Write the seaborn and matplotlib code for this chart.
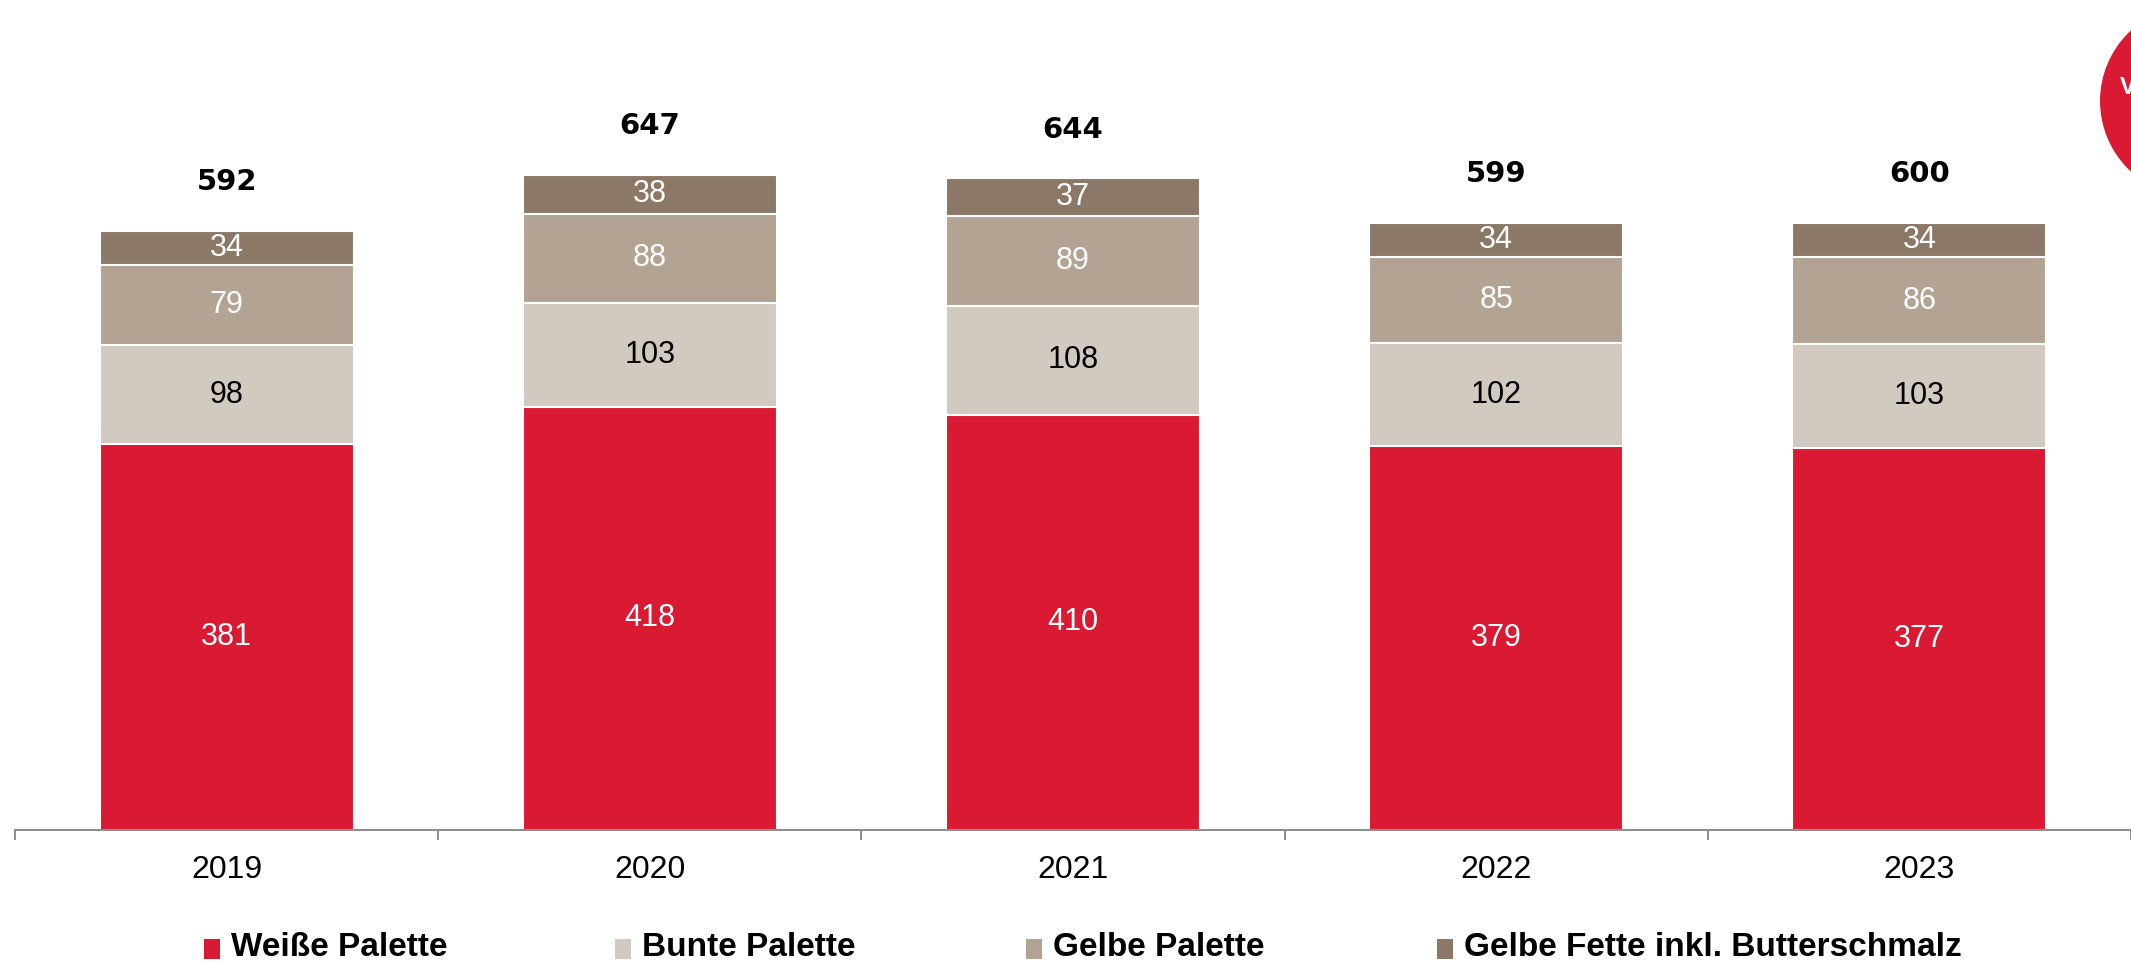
import numpy as np
import pandas as pd
import matplotlib
matplotlib.use("Agg")
import matplotlib.pyplot as plt
from matplotlib.patches import Circle, Rectangle
from matplotlib.transforms import IdentityTransform
import seaborn as sns

# data
years = ["2019", "2020", "2021", "2022", "2023"]
weisse = [381, 418, 410, 379, 377]
bunte = [98, 103, 108, 102, 103]
gelbe = [79, 88, 89, 85, 86]
fette = [34, 38, 37, 34, 34]
totals = [592, 647, 644, 599, 600]

series_names = ["Weiße Palette", "Bunte Palette", "Gelbe Palette", "Gelbe Fette inkl. Butterschmalz"]
series_colors = ["#DA1A32", "#D2C9C0", "#B3A393", "#8C7866"]
label_colors = ["white", "black", "white", "white"]

sns.set_theme(style="white")
plt.rcParams["font.family"] = ["Liberation Sans", "DejaVu Sans"]

W, H = 2131, 964
fig = plt.figure(figsize=(W / 100, H / 100), dpi=100)
ax = fig.add_axes([15 / W, (H - 830) / H, 1 - 15 / W, 830 / H])

df = pd.DataFrame({"year": years, "w": weisse, "b": bunte, "g": gelbe, "f": fette})
layers = [df["w"], df["b"], df["g"], df["f"]]
cum = np.cumsum(np.array(layers), axis=0)

# draw tallest stack first so the lower segments sit on top
for i in range(len(layers) - 1, -1, -1):
    sns.barplot(x=df["year"], y=cum[i], color=series_colors[i], width=0.6,
                edgecolor="white", linewidth=1.5, saturation=1, ax=ax)

# segment labels
for i in range(len(layers)):
    for j in range(len(years)):
        mid = cum[i][j] - layers[i][j] / 2
        ax.text(j, mid, str(layers[i][j]), ha="center", va="center",
                fontsize=22, color=label_colors[i])

# totals above bars
for j, t in enumerate(totals):
    ax.annotate(str(t), (j, cum[-1][j]), xytext=(0, 35), textcoords="offset points",
                ha="center", va="center", fontsize=21, fontweight="bold",
                family="DejaVu Sans", color="black")

ax.set_xlim(-0.5, 4.5)
ax.set_ylim(0, 820)
ax.set_xlabel("")
ax.set_ylabel("")
ax.set_yticks([])
for s in ["top", "right", "left"]:
    ax.spines[s].set_visible(False)
ax.spines["bottom"].set_color("#8C8C8C")
ax.spines["bottom"].set_linewidth(1.4)
ax.spines["bottom"].set_clip_on(False)

ax.set_xticks(np.arange(len(years)))
ax.set_xticklabels(years)
ax.tick_params(axis="x", which="major", length=0, pad=18, labelsize=23, labelcolor="black")
ax.set_xticks(np.arange(-0.5, len(years), 1.0), minor=True)
ax.tick_params(axis="x", which="minor", length=7, width=1.4, color="#8C8C8C", direction="out", bottom=True)

# red badge partly cut at the top right (pixel coords)
fig.patches.append(Circle((2196, H - 101), 96, transform=IdentityTransform(),
                          facecolor="#DA1A32", edgecolor="none"))
fig.text(2120 / W, 1 - 88 / H, "V", ha="left", va="center", fontsize=17,
         fontweight="bold", color="white")

# legend, evenly spaced like the original
for i, name in enumerate(series_names):
    x0 = 204 + i * 411
    fig.patches.append(Rectangle((x0 / W, 1 - 959 / H), 16 / W, 20 / H,
                                 transform=fig.transFigure, facecolor=series_colors[i],
                                 edgecolor="none"))
    fig.text((x0 + 27) / W, 1 - 948 / H, name, ha="left", va="center",
             fontsize=24, fontweight="bold", color="black")

fig.savefig("out.png", dpi=100)
